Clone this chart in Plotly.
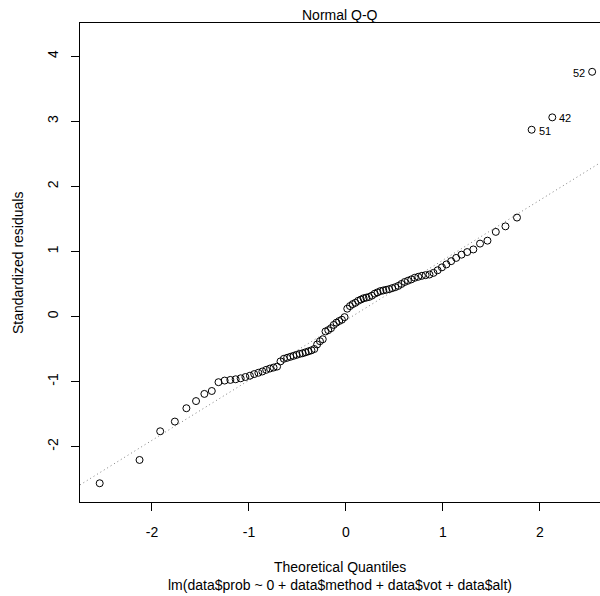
import plotly.graph_objects as go
import numpy as np

theoretical_upper = [0.0139, 0.0418, 0.0697, 0.0976, 0.1257, 0.1538, 0.1821, 0.2104,
                     0.2389, 0.2677, 0.2968, 0.3260, 0.3555, 0.3853, 0.4155, 0.4460,
                     0.4770, 0.5085, 0.5405, 0.5729, 0.6061, 0.6399, 0.6745, 0.7099,
                     0.7462, 0.7835, 0.8220, 0.8617, 0.9028, 0.9455, 0.9900, 1.0364,
                     1.0853, 1.1370, 1.1919, 1.2506, 1.3140, 1.3830, 1.4595, 1.5455,
                     1.6449, 1.7640, 1.9150, 2.1280, 2.5390]
theoretical_q = [-v for v in reversed(theoretical_upper)] + theoretical_upper

# Sorted standardized residuals
std_resid = [-2.563, -2.205, -1.764, -1.615, -1.41, -1.30, -1.19, -1.145, -1.01, -0.985,
             -0.975, -0.965, -0.95, -0.93, -0.91, -0.885, -0.865, -0.845, -0.82, -0.80,
             -0.785, -0.77, -0.69, -0.65, -0.635, -0.62, -0.605, -0.59, -0.575, -0.565,
             -0.55, -0.535, -0.52, -0.50, -0.43, -0.38, -0.35, -0.23, -0.21, -0.18,
             -0.13, -0.095, -0.07, -0.05, -0.01, 0.12, 0.16, 0.19, 0.21, 0.24,
             0.26, 0.28, 0.29, 0.30, 0.32, 0.35, 0.37, 0.39, 0.40, 0.41,
             0.42, 0.435, 0.45, 0.47, 0.50, 0.53, 0.55, 0.57, 0.595, 0.61,
             0.625, 0.635, 0.645, 0.67, 0.71, 0.755, 0.80, 0.85, 0.90, 0.95,
             0.99, 1.03, 1.12, 1.165, 1.30, 1.385, 1.52, 2.87, 3.06, 3.76]

# Observation ids of the three largest residuals (in sorted order)
label_ids = ["51", "42", "52"]
label_sides = ["right", "right", "left"]

x_ticks = [-2, -1, 0, 1, 2]
y_ticks = [-2, -1, 0, 1, 2, 3, 4]
x_range = [-2.742, 2.62]
y_range = [-2.851, 4.51]

FONT = "Liberation Sans, Arial, Helvetica, sans-serif"

# qqline through the quartiles (as in R)
q1, q3 = np.quantile(std_resid, [0.25, 0.75])
zq = 0.6744898
slope = (q3 - q1) / (2 * zq)
intercept = q1 + slope * zq
line_x = list(x_range)
line_y = [intercept + slope * v for v in line_x]

fig = go.Figure()
fig.add_trace(go.Scatter(
    x=line_x, y=line_y, mode="lines",
    line=dict(color="#808080", width=1, dash="1px,3px"),
    hoverinfo="skip", showlegend=False, cliponaxis=True))
fig.add_trace(go.Scatter(
    x=theoretical_q, y=std_resid, mode="markers",
    marker=dict(symbol="circle-open", size=7, color="black",
                line=dict(width=1, color="black")),
    showlegend=False))

annotations = []
n = len(std_resid)
for k, (lab, side) in enumerate(zip(label_ids, label_sides)):
    idx = n - len(label_ids) + k
    annotations.append(dict(
        x=theoretical_q[idx], y=std_resid[idx], xref="x", yref="y",
        text=lab, showarrow=False,
        xanchor="left" if side == "right" else "right",
        xshift=5 if side == "right" else -5, yshift=-1,
        font=dict(family=FONT, size=11, color="black")))

plot_top, plot_bottom = 23, 502
plot_h = plot_bottom - plot_top
def py(pix):
    return (plot_bottom - pix) / plot_h

annotations.append(dict(x=0.5, y=py(15), xref="paper", yref="paper", text="Normal Q-Q",
                        showarrow=False, xanchor="center", yanchor="middle",
                        font=dict(family=FONT, size=14, color="black")))
annotations.append(dict(x=0.5, y=py(567), xref="paper", yref="paper", text="Theoretical Quantiles",
                        showarrow=False, xanchor="center", yanchor="middle",
                        font=dict(family=FONT, size=14, color="black")))
annotations.append(dict(x=0.5, y=py(585), xref="paper", yref="paper",
                        text="lm(data$prob ~ 0 + data$method + data$vot + data$alt)",
                        showarrow=False, xanchor="center", yanchor="middle",
                        font=dict(family=FONT, size=14, color="black")))
annotations.append(dict(x=(18 - 80) / 520, y=py(263), xref="paper", yref="paper",
                        text="Standardized residuals", textangle=-90,
                        showarrow=False, xanchor="center", yanchor="middle",
                        font=dict(family=FONT, size=14, color="black")))

fig.update_layout(
    width=600, height=596,
    margin=dict(l=80, r=0, t=plot_top, b=596 - plot_bottom, pad=0),
    paper_bgcolor="white", plot_bgcolor="white",
    font=dict(family=FONT, size=14, color="black"),
    showlegend=False, annotations=annotations)

fig.update_xaxes(range=x_range, tickvals=x_ticks, ticktext=[str(v) for v in x_ticks],
                 showgrid=False, zeroline=False, showline=True, mirror=True,
                 linecolor="black", linewidth=1, ticks="outside", ticklen=8,
                 tickcolor="black", tickwidth=1, ticklabelstandoff=9,
                 automargin=False,
                 tickfont=dict(family=FONT, size=14, color="black"))
fig.update_yaxes(range=y_range, tickvals=y_ticks, ticktext=[str(v) for v in y_ticks],
                 showgrid=False, zeroline=False, showline=True, mirror=False,
                 linecolor="black", linewidth=1, ticks="outside", ticklen=8,
                 tickcolor="black", tickwidth=1, tickangle=-90, ticklabelstandoff=7,
                 automargin=False,
                 tickfont=dict(family=FONT, size=14, color="black"))

fig.write_html("out.html",
               config={"displayModeBar": False},
               post_script="document.body.style.margin='0';document.body.style.overflow='hidden';")
